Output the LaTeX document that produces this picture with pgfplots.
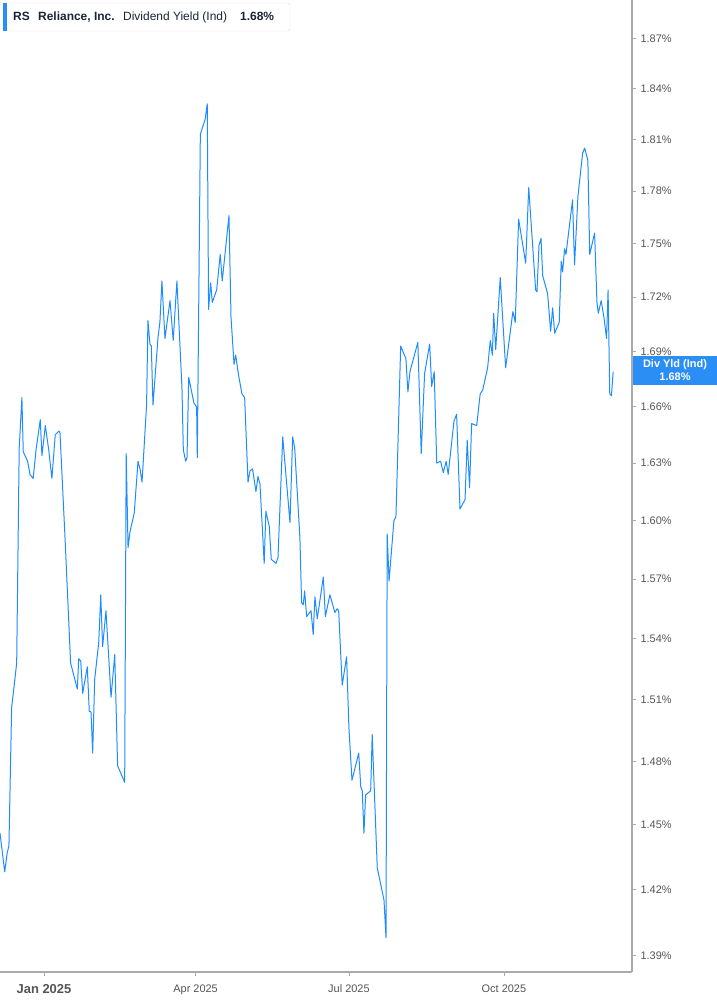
\documentclass[border=0pt]{standalone}
\usepackage{pgfplots}
\pgfplotsset{compat=1.18}
\usepackage{fontspec}
\setmainfont{Liberation Sans}

\definecolor{lineblue}{HTML}{1E8CFF}
\definecolor{boxblue}{HTML}{2A8EF5}
\definecolor{ticktext}{HTML}{555555}
\definecolor{axisgrey}{HTML}{AAAAAA}
\definecolor{legtext}{HTML}{1C2433}

% dividend yield, x = days since 1 Jan 2025
\pgfplotstableread{
day yld
-26.1 1.446
-23.3 1.428
-21.8 1.437
-20.8 1.440
-19.2 1.506
-17.8 1.516
-16.2 1.528
-14.7 1.638
-13.1 1.665
-12.3 1.636
-9.7 1.631
-8.3 1.624
-6.4 1.622
-4.7 1.637
-2.2 1.653
-1.2 1.634
0.8 1.650
2.8 1.637
4.7 1.622
6.7 1.645
8.9 1.647
9.5 1.646
12.5 1.591
15.8 1.528
19.8 1.515
20.6 1.530
21.8 1.529
23.0 1.513
25.7 1.526
26.9 1.504
27.9 1.504
28.9 1.484
30.1 1.520
32.5 1.538
33.7 1.562
34.8 1.536
36.8 1.554
39.8 1.511
42.0 1.532
43.7 1.478
47.9 1.470
48.8 1.635
49.9 1.586
51.0 1.594
53.6 1.604
55.8 1.631
57.0 1.627
58.2 1.620
60.9 1.661
61.7 1.707
62.9 1.694
63.7 1.693
64.7 1.661
67.7 1.698
68.8 1.706
70.0 1.729
71.8 1.697
74.8 1.718
76.7 1.696
78.9 1.729
81.9 1.670
82.7 1.637
84.1 1.631
84.9 1.633
85.9 1.676
89.0 1.662
90.6 1.660
91.0 1.633
92.8 1.813
95.7 1.822
96.9 1.831
97.7 1.713
98.9 1.728
99.9 1.717
102.5 1.724
104.6 1.744
105.8 1.729
109.8 1.766
111.0 1.709
112.8 1.683
113.8 1.688
115.5 1.677
117.5 1.667
119.1 1.665
121.1 1.620
122.3 1.626
123.8 1.627
125.8 1.615
127.0 1.623
128.2 1.619
130.7 1.578
131.7 1.605
133.7 1.597
134.9 1.580
137.7 1.578
138.9 1.581
141.7 1.644
146.0 1.599
147.6 1.644
148.8 1.638
151.9 1.591
152.9 1.558
153.9 1.557
154.7 1.564
155.9 1.551
158.5 1.554
159.8 1.542
160.8 1.561
162.2 1.550
165.8 1.571
167.0 1.551
169.7 1.562
172.7 1.553
173.9 1.555
174.9 1.554
177.0 1.517
179.6 1.531
181.0 1.496
182.8 1.471
186.8 1.484
188.0 1.468
188.9 1.466
189.9 1.446
190.9 1.464
193.9 1.466
194.8 1.493
197.8 1.430
201.8 1.415
203.0 1.398
203.7 1.593
204.8 1.569
207.7 1.600
208.9 1.602
211.7 1.693
214.8 1.686
216.0 1.668
217.2 1.679
221.9 1.695
223.9 1.635
225.9 1.678
228.9 1.694
230.1 1.671
231.6 1.679
233.1 1.630
235.4 1.631
237.0 1.625
238.7 1.631
239.9 1.624
243.3 1.652
244.9 1.656
246.9 1.606
249.9 1.611
251.2 1.642
252.6 1.617
253.8 1.651
256.8 1.650
258.9 1.667
260.4 1.669
263.3 1.681
264.9 1.696
266.1 1.688
266.9 1.711
268.1 1.691
270.8 1.731
274.0 1.681
278.3 1.712
279.7 1.706
281.7 1.764
285.9 1.739
287.7 1.782
291.8 1.724
292.6 1.723
293.8 1.749
295.0 1.753
296.0 1.732
298.9 1.722
300.7 1.701
301.9 1.714
303.1 1.700
305.8 1.706
307.0 1.740
307.8 1.734
309.0 1.747
309.8 1.744
313.7 1.775
314.9 1.738
316.9 1.777
319.7 1.802
320.9 1.805
322.8 1.798
323.9 1.744
326.8 1.756
328.2 1.717
329.0 1.711
330.7 1.718
332.3 1.709
333.9 1.697
334.8 1.724
335.8 1.667
336.8 1.666
337.8 1.679
}\yieldtable

\begin{document}
\begin{tikzpicture}
\begin{axis}[
    scale only axis,
    width=632bp, height=972bp,
    ymode=log,
    xmin=-26.1, xmax=349.0,
    ymin=1.3825, ymax=1.8938,
    axis x line*=bottom,
    axis y line*=right,
    axis line style={axisgrey, line width=1.2bp},
    tick align=outside,
    major tick length=4bp,
    tick style={axisgrey, line width=0.8bp},
    xtick={0,90,181,273},
    xticklabels={\textbf{\fontsize{13}{15}\selectfont Jan 2025}, Apr 2025, Jul 2025, Oct 2025},
    xticklabel style={font=\fontsize{11}{13}\selectfont, text=ticktext, anchor=north, yshift=-5bp},
    ytick={1.39,1.42,1.45,1.48,1.51,1.54,1.57,1.60,1.63,1.66,1.69,1.72,1.75,1.78,1.81,1.84,1.87},
    yticklabels={1.39\%,1.42\%,1.45\%,1.48\%,1.51\%,1.54\%,1.57\%,1.60\%,1.63\%,1.66\%,1.69\%,1.72\%,1.75\%,1.78\%,1.81\%,1.84\%,1.87\%},
    minor ytick={},
    yticklabel style={font=\fontsize{11}{13}\selectfont, text=ticktext, anchor=west, xshift=1bp},
    clip=true,
]
\addplot[lineblue, line width=1bp, line join=round] table[x=day, y=yld] {\yieldtable};
\end{axis}

% legend box, top left
\draw[rounded corners=2bp, draw=black!12, fill=white] (3bp,969bp) rectangle (290bp,941bp);
\fill[boxblue] (3bp,969bp) rectangle (6.5bp,941bp);
\begin{scope}[every node/.style={anchor=base west, inner sep=0pt, text=legtext, font=\fontsize{12}{14}\selectfont}]
\node at (13bp,951bp) {\textbf{RS}};
\node at (38bp,951bp) {\textbf{Reliance, Inc.}};
\node at (123bp,951bp) {Dividend Yield (Ind)};
\node at (240bp,951bp) {\textbf{1.68\%}};
\end{scope}

% current value tag on the right
\fill[boxblue] (633bp,616bp) rectangle (717bp,587bp);
\node[text=white, align=center, inner sep=0pt, font=\bfseries\fontsize{11}{13}\selectfont] at (675bp,601.5bp) {Div Yld (Ind)\\1.68\%};

\pgfresetboundingbox
\path[use as bounding box] (0,-33bp) rectangle (717bp,972bp);
\end{tikzpicture}
\end{document}
